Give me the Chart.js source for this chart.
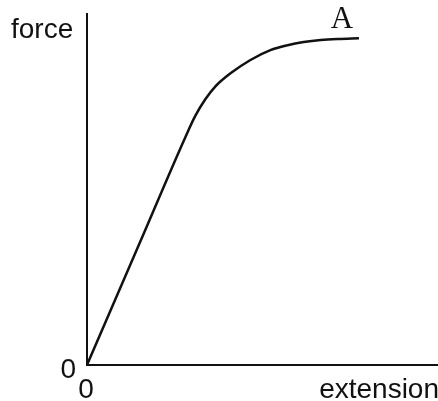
<!DOCTYPE html>
<html>
<head>
<meta charset="utf-8">
<script src="https://cdn.jsdelivr.net/npm/chart.js@4"></script>
<style>
  html, body { margin: 0; padding: 0; background: #fff; }
  #wrap { width: 438px; height: 401px; }
</style>
</head>
<body>
<div id="wrap"><canvas id="myChart"></canvas></div>
<script>
// extension (x) and force (y), arbitrary units 0..100
let extension = [0, 15.2, 28.1, 30.9, 33.8, 36.7, 41.0, 46.7, 52.4, 57.3, 61.9, 66.8, 71.6, 77.7];
let force = [0, 35.1, 64.9, 70.9, 75.7, 79.4, 83.1, 86.9, 89.7, 91.1, 92.0, 92.6, 92.9, 93.1];
let xLabel = 'extension';
let yLabel = 'force';
let curveLabel = 'A';
let originLabel = '0';

let points = extension.map((x, i) => ({ x: x, y: force[i] }));

// axis names, the two zeros and the "A" at the end of the curve
let labelsPlugin = {
  id: 'labels',
  afterDraw(chart) {
    let ctx = chart.ctx;
    let xs = chart.scales.x, ys = chart.scales.y;
    let x0 = xs.getPixelForValue(0), y0 = ys.getPixelForValue(0);
    ctx.save();
    ctx.fillStyle = '#111';
    ctx.font = '28px "Liberation Sans", Arial, sans-serif';
    ctx.textBaseline = 'alphabetic';

    ctx.textAlign = 'left';
    ctx.fillText(yLabel, 11, ys.top + 24);

    ctx.textAlign = 'right';
    ctx.fillText(xLabel, xs.right + 2, y0 + 33);
    ctx.fillText(originLabel, x0 - 11, y0 + 13);

    ctx.textAlign = 'center';
    ctx.fillText(originLabel, x0 - 1, y0 + 33);

    let last = points[points.length - 1];
    ctx.font = '31px "Liberation Serif", "Times New Roman", serif';
    ctx.fillText(curveLabel, xs.getPixelForValue(last.x) - 17, ys.getPixelForValue(last.y) - 10);
    ctx.restore();
  }
};

let myChart = document.getElementById('myChart').getContext('2d');

let chart = new Chart(myChart, {
  type: 'line',
  data: {
    datasets: [{
      data: points,
      borderColor: '#111',
      borderWidth: 2.5,
      pointRadius: 0,
      fill: false,
      cubicInterpolationMode: 'monotone'
    }]
  },
  options: {
    responsive: true,
    maintainAspectRatio: false,
    animation: false,
    layout: { padding: { left: 79, top: 14, right: 1, bottom: 28 } },
    plugins: {
      legend: { display: false },
      tooltip: { enabled: false }
    },
    scales: {
      x: {
        type: 'linear',
        min: 0,
        max: 100,
        grid: { display: false },
        ticks: { display: false },
        border: { display: true, color: '#111', width: 2 }
      },
      y: {
        type: 'linear',
        min: 0,
        max: 100,
        grid: { display: false },
        ticks: { display: false },
        border: { display: true, color: '#111', width: 2 }
      }
    }
  },
  plugins: [labelsPlugin]
});
</script>
</body>
</html>
